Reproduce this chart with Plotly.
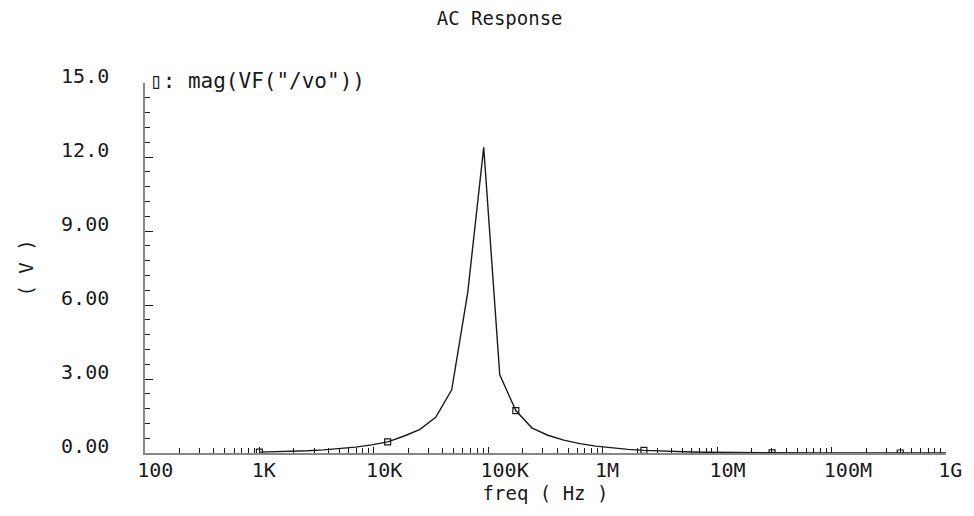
import plotly.graph_objects as go

# AC sweep: frequency (Hz) and |V(vo)| (V)
freq = [1.00e3, 1.38e3, 1.91e3, 2.63e3, 3.63e3, 5.01e3, 6.92e3, 9.55e3,
        1.32e4, 1.82e4, 2.51e4, 3.47e4, 4.79e4, 6.61e4, 9.12e4, 1.26e5,
        1.74e5, 2.40e5, 3.31e5, 4.57e5, 6.31e5, 8.71e5, 1.20e6, 1.66e6,
        2.29e6, 3.16e6, 4.37e6, 6.03e6, 8.32e6, 1.15e7, 1.58e7, 2.19e7,
        3.02e7, 4.17e7, 5.75e7, 7.94e7, 1.10e8, 1.51e8, 2.09e8, 2.88e8,
        3.98e8, 5.50e8, 7.59e8, 1.00e9]
mag = [0.035, 0.048, 0.067, 0.092, 0.127, 0.175, 0.24, 0.33,
       0.45, 0.68, 0.95, 1.45, 2.56, 6.5, 12.39, 3.17,
       1.72, 1.02, 0.72, 0.52, 0.38, 0.28, 0.20, 0.145,
       0.105, 0.076, 0.055, 0.040, 0.029, 0.021, 0.015, 0.011,
       0.008, 0.006, 0.004, 0.003, 0.002, 0.0015, 0.001, 0.0008,
       0.0006, 0.0004, 0.0003, 0.0002]

# every 8th point carries a marker
mark_idx = [0, 8, 16, 24, 32, 40]

x_ticks = [1e2, 1e3, 1e4, 1e5, 1e6, 1e7, 1e8, 1e9]
x_labels = ["100", "1K", "10K", "100K", "1M", "10M", "100M", "1G"]
y_ticks = [0, 3, 6, 9, 12, 15]
y_labels = ["0.00", "3.00", "6.00", "9.00", "12.0", "15.0"]

FONT = "DejaVu Sans Mono"
INK = "#1a1a1a"

fig = go.Figure()
fig.add_trace(go.Scatter(x=freq, y=mag, mode="lines",
                         line=dict(color=INK, width=1.4), showlegend=False))
fig.add_trace(go.Scatter(x=[freq[i] for i in mark_idx], y=[mag[i] for i in mark_idx],
                         mode="markers", showlegend=False,
                         marker=dict(symbol="square-open", size=6, color=INK,
                                     line=dict(width=1.2, color=INK))))

fig.update_layout(
    width=974, height=516,
    paper_bgcolor="white", plot_bgcolor="white",
    margin=dict(l=145, r=21, t=83, b=63),
    font=dict(family=FONT, size=20, color=INK),
    title=dict(text="AC Response", x=0.513, xanchor="center", y=0.965,
               yanchor="middle", font=dict(family=FONT, size=19, color=INK)),
    annotations=[dict(text='\u25af: mag(VF("/vo"))', xref="paper", yref="paper",
                      x=0.0, y=1.0, xanchor="left", yanchor="bottom", xshift=3, yshift=-12,
                      showarrow=False, font=dict(family=FONT, size=21, color=INK))],
)

fig.update_xaxes(
    type="log", range=[2, 9],
    tickvals=x_ticks, ticktext=x_labels,
    ticks="inside", ticklen=6, tickcolor=INK, tickwidth=1,
    minor=dict(ticks="inside", ticklen=5, dtick="D1", tickcolor=INK, showgrid=False),
    showgrid=False, zeroline=False,
    showline=True, linecolor="#888888", linewidth=1.5,
    ticklabelposition="outside right", ticklabelshift=-9,
    ticklabelstandoff=-2,
    title=dict(text="freq ( Hz )", standoff=4, font=dict(family=FONT, size=19)),
)
fig.update_yaxes(
    range=[0, 15],
    tickvals=y_ticks, ticktext=y_labels,
    ticks="inside", ticklen=8, tickcolor=INK, tickwidth=1,
    minor=dict(ticks="inside", ticklen=5, dtick=0.6, tickcolor=INK, showgrid=False),
    showgrid=False, zeroline=False,
    showline=True, linecolor="#888888", linewidth=1.5,
    ticklabelshift=-7,
    ticklabelstandoff=30,
    title=dict(text="( V )", standoff=22, font=dict(family=FONT, size=19)),
)

# drop the default body margin so the figure sits at the page origin
fig.write_html("out.html", config={"displayModeBar": False},
               post_script="document.body.style.margin='0px';")
